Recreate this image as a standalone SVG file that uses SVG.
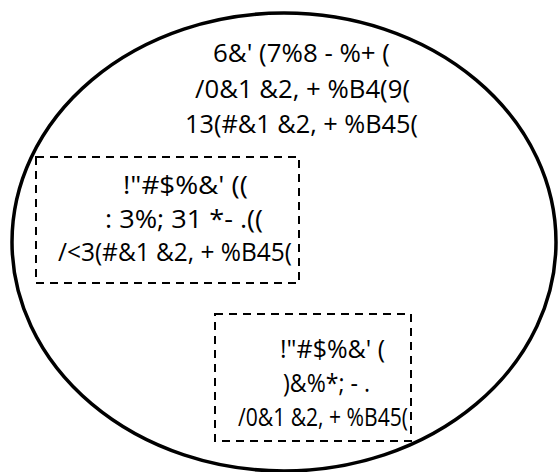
<svg xmlns="http://www.w3.org/2000/svg" width="559" height="472" viewBox="0 0 559 472">
<style>
.t{font-family:"Open Sans","Liberation Sans",sans-serif;font-size:26px;fill:#000;text-anchor:middle}
.box{fill:none;stroke:#000;stroke-width:2;stroke-dasharray:8 6}
</style>
<rect width="559" height="472" fill="#fff"/>
<g id="outer">
<ellipse cx="284" cy="242" rx="272" ry="229" fill="none" stroke="#000" stroke-width="3.5"/>
<text class="t" x="301.5" y="62" textLength="177" lengthAdjust="spacingAndGlyphs">6&amp;' (7%8 - %+ (</text>
<text class="t" x="302.5" y="98" textLength="215" lengthAdjust="spacingAndGlyphs">/0&amp;1 &amp;2, + %B4(9(</text>
<text class="t" x="301.5" y="133" textLength="233" lengthAdjust="spacingAndGlyphs">13(#&amp;1 &amp;2, + %B45(</text>
</g>
<g id="box1">
<rect class="box" x="36" y="157" width="263" height="126"/>
<text class="t" x="185.5" y="194" textLength="125" lengthAdjust="spacingAndGlyphs">!"#$%&amp;' ((</text>
<text class="t" x="184" y="228" textLength="158" lengthAdjust="spacingAndGlyphs">: 3%; 31 *- .((</text>
<text class="t" x="175" y="261" textLength="234" lengthAdjust="spacingAndGlyphs">/&lt;3(#&amp;1 &amp;2, + %B45(</text>
</g>
<g id="box2">
<rect class="box" x="215" y="314" width="196" height="127"/>
<text class="t" x="332.5" y="358" textLength="105" lengthAdjust="spacingAndGlyphs">!"#$%&amp;' (</text>
<text class="t" x="326.5" y="392" textLength="87" lengthAdjust="spacingAndGlyphs">)&amp;%*; - .</text>
<text class="t" x="323" y="426" textLength="170" lengthAdjust="spacingAndGlyphs">/0&amp;1 &amp;2, + %B45(</text>
</g>
<g id="connectors"></g>
</svg>
